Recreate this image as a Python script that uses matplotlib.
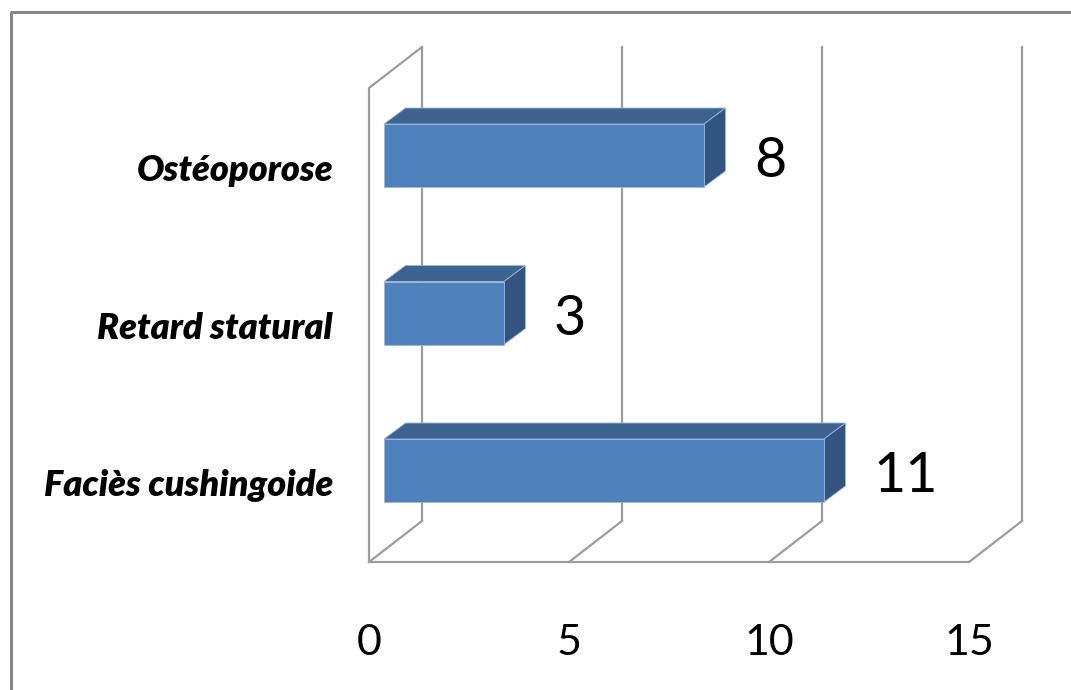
import matplotlib
matplotlib.use("Agg")
from matplotlib import pyplot as plt
from matplotlib.patches import Polygon

categories = ["Faciès cushingoide", "Retard statural", "Ostéoporose"]
values = [11, 3, 8]
ticks = [0, 5, 10, 15]

plt.rcParams['font.family'] = ['Lato', 'DejaVu Sans']

W, H = 1071, 690
fig = plt.figure(figsize=(W / 100, H / 100), dpi=100)
ax = fig.add_axes([0, 0, 1, 1])
ax.axis('off')

# axis scaling: 40 px per unit on x, 157.5 px between categories on y
px_x, px_y = 40.0, 157.5
x0_px, y0_px = 369, 470.5
ax.set_xlim(-x0_px / px_x, (W - x0_px) / px_x)
ax.set_ylim((y0_px - H) / px_y, y0_px / px_y)

grid_c = '#9c9c9c'
lw = 1.6

# 3d box: floor, back wall and left wall
dx, dy = 53 / px_x, 41 / px_y
floor = (y0_px - 562) / px_y
wall_top = (y0_px - 47) / px_y
xmax = ticks[-1]
ax.plot([0, xmax], [floor, floor], c=grid_c, lw=lw, solid_capstyle='round')
for t in ticks:
    ax.plot([t, t + dx], [floor, floor + dy], c=grid_c, lw=lw)
    ax.plot([t + dx, t + dx], [floor + dy, wall_top], c=grid_c, lw=lw)
ax.plot([0, 0, dx], [floor, wall_top - dy, wall_top], c=grid_c, lw=lw)

# bars
front_c, top_c, side_c = '#4f81bd', '#3d6491', '#32557f'
edge_c = '#9db7d9'
start = 15 / px_x
half = 31.5 / px_y
bdx, bdy = 21.5 / px_x, 16 / px_y
for i, v in enumerate(values):
    x1 = start + v
    lo, hi = i - half, i + half
    top = [(start, hi), (x1, hi), (x1 + bdx, hi + bdy), (start + bdx, hi + bdy)]
    side = [(x1, lo), (x1 + bdx, lo + bdy), (x1 + bdx, hi + bdy), (x1, hi)]
    front = [(start, lo), (x1, lo), (x1, hi), (start, hi)]
    for pts, c in ((top, top_c), (side, side_c), (front, front_c)):
        ax.add_patch(Polygon(pts, closed=True, facecolor=c, edgecolor=edge_c,
                             lw=0.6, zorder=3))
    ax.text(x1 + 1.25, i - 0.137, str(v), fontsize=40, ha='left', va='baseline',
            color='black', zorder=4)
    ax.text((333 - x0_px) / px_x, i - 0.165, categories[i], fontsize=26,
            fontweight='heavy', fontstyle='italic', ha='right', va='baseline')

for t in ticks:
    ax.text(t, (y0_px - 655) / px_y, str(t), fontsize=31, ha='center',
            va='baseline')

# chart area border
bx, by = 11 / W, 1 - 12 / H
fig.add_artist(plt.Line2D([bx, bx, 1.01], [-0.01, by, by], transform=fig.transFigure,
                          color='#878787', lw=2.2))

fig.savefig('out.png', dpi=100)
